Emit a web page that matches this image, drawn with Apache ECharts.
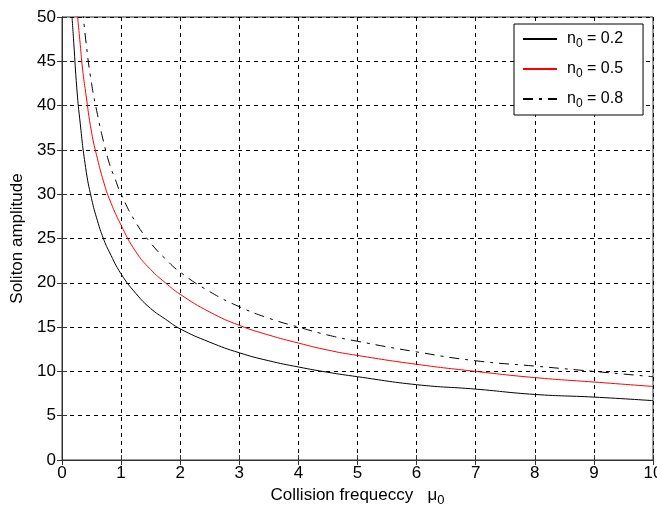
<!DOCTYPE html>
<html>
<head>
<meta charset="utf-8">
<script src="https://cdn.jsdelivr.net/npm/echarts@6/dist/echarts.min.js"></script>
<style>html,body{margin:0;padding:0;background:#fff}#c{width:657px;height:510px}</style>
</head>
<body>
<div id="c"></div>
<script>
// n0 = 0.2
const xA = [0.17,0.2,0.25,0.3,0.4,0.5,0.6,0.7,0.8,1,1.25,1.5,1.75,2,2.5,3,3.5,4,4.5,5,6,7,8,9,10];
const yA = [50,47,42,38.5,33,29.5,27,25,23.5,21,18.8,17.1,15.9,14.8,13.3,12.1,11.2,10.5,9.9,9.4,8.5,8.0,7.4,7.1,6.7];
// n0 = 0.5
const xB = [0.25,0.3,0.35,0.4,0.5,0.6,0.7,0.8,1,1.25,1.5,1.75,2,2.5,3,3.5,4,4.5,5,6,7,8,9,10];
const yB = [51,47.5,44,41.5,37,34,31.5,29.5,26.5,23.5,21.5,20,18.7,16.7,15.2,14.1,13.2,12.4,11.8,10.8,10.0,9.3,8.8,8.3];
// n0 = 0.8
const xC = [0.35,0.4,0.5,0.6,0.7,0.8,0.9,1,1.25,1.5,1.75,2,2.5,3,3.5,4,4.5,5,6,7,8,9,10];
const yC = [51,47.5,42.5,39,36,33.5,31.7,30,26.8,24.5,22.7,21.2,19,17.3,16,15,14.1,13.4,12.2,11.2,10.6,10,9.4];
const seriesNames = ['0.2','0.5','0.8'];
const xTitle = 'Collision frequeccy   ';
const yTitle = 'Soliton amplitude';

const zip = (xs, ys) => xs.map((x, i) => [x, ys[i]]);
const font = 'Liberation Sans, Arial, sans-serif';
const chart = echarts.init(document.getElementById('c'));
const axisCommon = {
  axisLine: {lineStyle: {color: '#333', width: 1}},
  axisTick: {inside: true, length: 5, lineStyle: {color: '#333'}},
};
chart.setOption({
  animation: false,
  textStyle: {fontFamily: font},
  grid: {left: 62, right: 4, top: 17, bottom: 50, show: true, borderColor: '#333', borderWidth: 1,
         containLabel: false, outerBoundsMode: 'none'},
  legend: {
    left: 514, top: 24, orient: 'vertical',
    backgroundColor: '#fff', borderColor: '#000', borderWidth: 1,
    padding: [7, 20, 5, 8], itemWidth: 34, itemHeight: 14, itemGap: 11,
    itemStyle: {opacity: 0},
    data: seriesNames.map(n => 'n' + n),
    formatter: name => '{f|n}{s|0}{t| = ' + name.slice(1) + '}',
    textStyle: {
      rich: {
        f: {fontSize: 16, color: '#000', fontFamily: font, padding: [0, 0, 0, 5]},
        t: {fontSize: 16, color: '#000', fontFamily: font},
        s: {fontSize: 12, color: '#000', fontFamily: font, padding: [10, 0, 0, 0]}
      }
    }
  },
  xAxis: [{
    type: 'value', min: 0, max: 10, interval: 1,
    name: '{t|' + xTitle + 'μ}{s|0}', nameLocation: 'middle', nameGap: 22,
    nameTextStyle: {rich: {t: {fontSize: 17, color: '#000', fontFamily: font}, s: {fontSize: 13, color: '#000', fontFamily: font, padding: [10,0,0,0]}}},
    axisLabel: {color: '#000', fontSize: 17, margin: 5},
    splitLine: {show: true, lineStyle: {color: '#000', type: [4, 4], width: 1}},
    ...axisCommon
  }, {
    type: 'value', min: 0, max: 10, interval: 1, position: 'top',
    axisLabel: {show: false}, splitLine: {show: false}, ...axisCommon
  }],
  yAxis: [{
    type: 'value', min: 0, max: 50, interval: 5,
    name: yTitle, nameLocation: 'middle', nameGap: 32,
    nameTextStyle: {fontSize: 17, color: '#000'},
    axisLabel: {color: '#000', fontSize: 17, margin: 6},
    splitLine: {show: true, lineStyle: {color: '#000', type: [4, 4], width: 1}},
    ...axisCommon
  }, {
    type: 'value', min: 0, max: 50, interval: 5, position: 'right',
    axisLabel: {show: false}, splitLine: {show: false}, ...axisCommon
  }],
  series: [
    {name: 'n0.2', type: 'line', data: zip(xA, yA), symbol: 'none', smooth: true, clip: true,
     lineStyle: {color: '#000', width: 1}, itemStyle: {color: '#000'}},
    {name: 'n0.5', type: 'line', data: zip(xB, yB), symbol: 'none', smooth: true, clip: true,
     lineStyle: {color: '#ff0000', width: 1}, itemStyle: {color: '#ff0000'}},
    {name: 'n0.8', type: 'line', data: zip(xC, yC), symbol: 'none', smooth: true, clip: true,
     lineStyle: {color: '#000', width: 1, type: [10, 6, 3, 6]}, itemStyle: {color: '#000'}}
  ]
});
</script>
</body>
</html>
